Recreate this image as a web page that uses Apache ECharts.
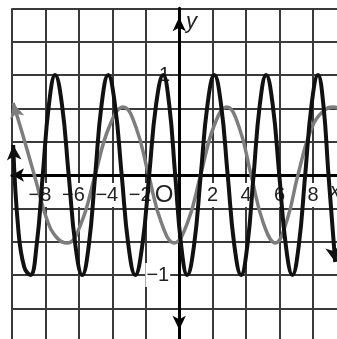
<!DOCTYPE html>
<html><head><meta charset="utf-8">
<script src="https://cdn.jsdelivr.net/npm/echarts@6/dist/echarts.min.js"></script>
<style>html,body{margin:0;padding:0;background:#fff}#c{width:337px;height:339px}</style>
</head><body><div id="c"></div>
<script>
// Black curve (amplitude 1, period ~pi)
const blackX = [-9.93,-9.62,-9.27,-8.9,-8.53,-8.16,-7.79,-7.42,-7.015,-6.61,-6.205,-5.8,-5.41,-5.025,-4.64,-4.25,-3.845,-3.44,-3.035,-2.63,-2.21,-1.795,-1.38,-0.96,-0.6,-0.24,0.12,0.48,0.885,1.29,1.695,2.1,2.5,2.9,3.3,3.7,4.075,4.45,4.825,5.2,5.59,5.985,6.38,6.77,7.15,7.535,7.92,8.3,8.62,8.93,9.33];
const blackY = [0.3,-0.55,-0.92,-1,-0.707,0,0.707,1,0.707,0,-0.707,-1,-0.707,0,0.707,1,0.707,0,-0.707,-1,-0.707,0,0.707,1,0.707,0,-0.707,-1,-0.707,0,0.707,1,0.707,0,-0.707,-1,-0.707,0,0.707,1,0.707,0,-0.707,-1,-0.707,0,0.707,1,0.707,0,-0.87];
// Gray curve (amplitude ~2/3, period ~2pi)
const grayX = [-9.93,-9.3,-8.6,-7.9,-7.3,-6.7,-5.86,-5.03,-4.19,-3.35,-2.59,-1.83,-1.06,-0.3,0.49,1.28,2.06,2.85,3.58,4.3,5.03,5.75,6.45,7.1,7.95,8.7,9.2,9.5];
const grayY = [0.72,0.37,-0.04,-0.45,-0.63,-0.68,-0.48,0,0.48,0.68,0.48,0,-0.48,-0.68,-0.48,0,0.48,0.68,0.48,0,-0.48,-0.68,-0.45,0,0.48,0.65,0.68,0.67];
const xTicks = [-8,-6,-4,-2,0,2,4,6,8];
const xTickLabels = ['−8','−6','−4','−2','O','2','4','6','8'];
const yTicks = [1,-1];
const yTickLabels = ['1','−1'];

function buildData(xs, ys, startRot, endRot) {
  return xs.map(function (x, i) {
    const item = { value: [x, ys[i]] };
    if (i === 0 && startRot !== null) { item.symbol = 'arrow'; item.symbolRotate = startRot; }
    else if (i === xs.length - 1 && endRot !== null) { item.symbol = 'arrow'; item.symbolRotate = endRot; }
    else { item.symbol = 'none'; }
    return item;
  });
}
function findIdx(arr, v) {
  for (let i = 0; i < arr.length; i++) if (Math.abs(arr[i] - v) < 1e-6) return i;
  return -1;
}
const FONT = 'Liberation Sans, Arial, sans-serif';
const X_OFF = -(339 + 2.67 - 175);      // move bottom axis up to y = 0
const Y_OFF = -(12 + 10 * 16.72 - 12);  // move left axis right to x = 0
const chart = echarts.init(document.getElementById('c'), null, { renderer: 'canvas' });
chart.setOption({
  animation: false,
  backgroundColor: '#fff',
  grid: { left: 12, right: -9.4, top: 8.33, bottom: -2.67, outerBoundsMode: 'none', containLabel: false },
  xAxis: {
    type: 'value', min: -10, max: 10, interval: 2, position: 'bottom', offset: X_OFF,
    splitLine: { show: true, lineStyle: { color: '#3a3a3a', width: 2 } },
    axisLine: { show: true, onZero: false, lineStyle: { color: '#000', width: 3 }, symbol: ['arrow', 'none'], symbolSize: [10, 12] },
    axisTick: { show: false },
    axisLabel: {
      show: true, margin: 8, fontSize: 20, fontFamily: FONT, color: '#222',
      showMinLabel: true, showMaxLabel: true, hideOverlap: false,
      formatter: function (v) {
        const i = findIdx(xTicks, v);
        if (i < 0) return '';
        const t = xTickLabels[i];
        if (xTicks[i] === 0) return '{o|' + t + '}{go|\u00a0}';
        if (xTicks[i] < 0) return '{n|' + t + '}{g|\u00a0}';
        return '{n|' + t + '}';
      },
      rich: {
        n: { backgroundColor: '#fff', fontSize: 20, fontFamily: FONT, color: '#222', padding: [2, 1, 2, 1] },
        o: { backgroundColor: '#fff', fontSize: 24, fontFamily: FONT, color: '#222', padding: [0, 1, 0, 1] },
        g: { width: 11, fontSize: 20 },
        go: { width: 30, fontSize: 20 }
      }
    }
  },
  yAxis: {
    type: 'value', min: -5 / 3, max: 5 / 3, interval: 1 / 3, position: 'left', offset: Y_OFF,
    splitLine: { show: true, lineStyle: { color: '#3a3a3a', width: 2 } },
    axisLine: { show: true, onZero: false, lineStyle: { color: '#000', width: 3 }, symbol: ['arrow', 'arrow'], symbolSize: [10, 14], symbolOffset: [12, -9] },
    axisTick: { show: false },
    axisLabel: {
      show: true, margin: 9, fontSize: 20, fontFamily: FONT, color: '#222', hideOverlap: false,
      formatter: function (v) {
        const i = findIdx(yTicks, v);
        if (i < 0) return '';
        if (yTicks[i] < 0) return '{m|' + yTickLabels[i] + '}';
        return '{p|' + yTickLabels[i] + '}';
      },
      rich: {
        m: { backgroundColor: '#fff', fontSize: 20, fontFamily: FONT, color: '#222', padding: [2, 1, 2, 1] },
        p: { fontSize: 20, fontFamily: FONT, color: '#222' }
      }
    }
  },
  graphic: [
    { type: 'text', left: 186, top: 11, style: { text: 'y', font: 'italic 22px ' + FONT, fill: '#222' } },
    { type: 'text', left: 330, top: 181, style: { text: 'x', font: 'italic 20px ' + FONT, fill: '#222' } }
  ],
  series: [
    {
      type: 'line', name: 'gray', smooth: 0.45, clip: true,
      data: buildData(grayX, grayY, 16, null),
      symbolSize: [11, 15],
      lineStyle: { color: '#7d7d7d', width: 3.5 },
      itemStyle: { color: '#7d7d7d' },
      z: 3
    },
    {
      type: 'line', name: 'black', smooth: 0.45, clip: true,
      data: buildData(blackX, blackY, 4, 190),
      symbolSize: [11, 15],
      lineStyle: { color: '#111', width: 4 },
      itemStyle: { color: '#111' },
      z: 4
    }
  ]
});
</script>
</body></html>
